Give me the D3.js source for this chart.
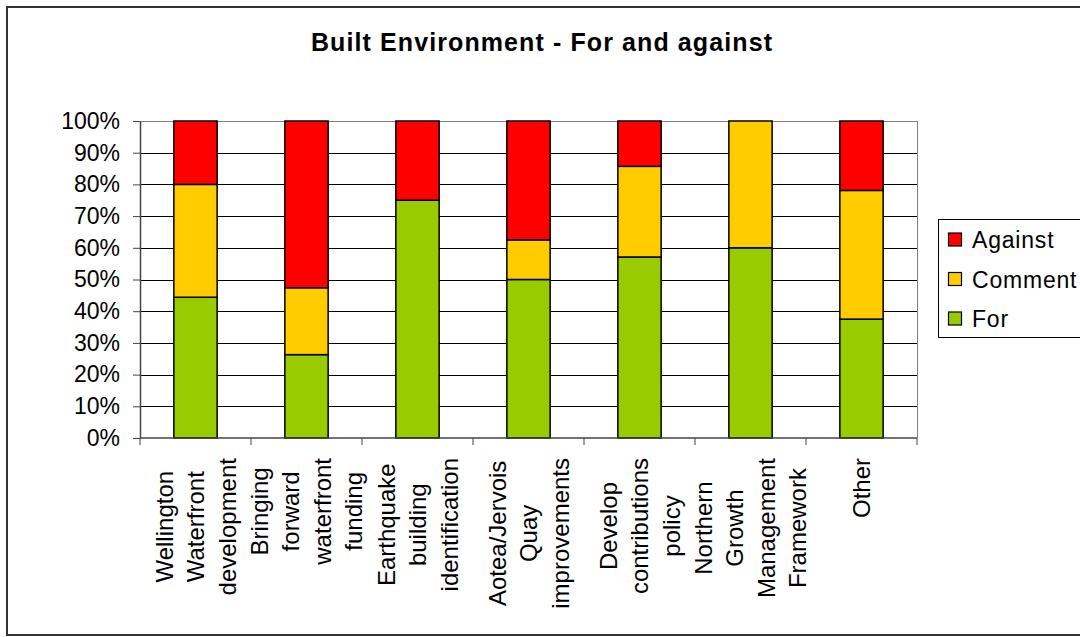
<!DOCTYPE html>
<html>
<head>
<meta charset="utf-8">
<script src="https://cdn.jsdelivr.net/npm/d3@7"></script>
<style>
  body { margin: 0; background: #fff; }
  text { font-family: "Liberation Sans", Arial, sans-serif; fill: #000; }
</style>
</head>
<body>
<div id="root"></div>
<script>
// categories (line breaks as shown in the chart)
var categories = [
  ["Wellington", "Waterfront", "development"],
  ["Bringing", "forward", "waterfront", "funding"],
  ["Earthquake", "building", "identification"],
  ["Aotea/Jervois", "Quay", "improvements"],
  ["Develop", "contributions", "policy"],
  ["Northern", "Growth", "Management", "Framework"],
  ["Other"]
];
// percentages per category
var forVals     = [44.4, 26.3, 75, 50, 57.1, 60, 37.5];
var commentVals = [35.6, 21.1, 0, 12.5, 28.6, 40, 40.6];
var againstVals = [20, 52.6, 25, 37.5, 14.3, 0, 21.9];
var seriesNames = ["For", "Comment", "Against"];
var seriesColors = ["#99cc00", "#ffcc00", "#ff0000"];
var yTicks = [0, 10, 20, 30, 40, 50, 60, 70, 80, 90, 100];

function draw() {
  var w = 1080, h = 637;
  var pLeft = 140, pRight = 917, pTop = 121, pBottom = 438;

  var svg = d3.select("#root").append("svg").attr("width", w).attr("height", h);

  // outer chart border
  svg.append("rect").attr("x", 7).attr("y", 7).attr("width", 1100).attr("height", 628)
    .style("fill", "none").style("stroke", "#333").style("stroke-width", 2);

  // title
  svg.append("text").attr("x", 542).attr("y", 51).attr("text-anchor", "middle")
    .style("font-size", "25px").style("font-weight", "bold").style("letter-spacing", "1.1px")
    .text("Built Environment - For and against");

  var x = d3.scaleBand().domain(d3.range(categories.length)).range([pLeft, pRight]).paddingInner(0.61).paddingOuter(0.305);
  var y = d3.scaleLinear().domain([0, 100]).range([pBottom, pTop]);

  // gridlines
  svg.append("g").selectAll("line").data(yTicks.slice(1)).enter().append("line")
    .attr("x1", pLeft).attr("x2", pRight)
    .attr("y1", d => Math.round(y(d)) + 0.5).attr("y2", d => Math.round(y(d)) + 0.5)
    .style("stroke", d => d == 100 ? "#808080" : "#000").style("stroke-width", 1);
  // right border of plot
  svg.append("line").attr("x1", pRight + 0.5).attr("x2", pRight + 0.5).attr("y1", pTop).attr("y2", pBottom)
    .style("stroke", "#808080");

  // stacked data
  var rows = forVals.map((v, i) => ({ For: v, Comment: commentVals[i], Against: againstVals[i], i: i }));
  var stack = d3.stack().keys(seriesNames)(rows);

  var g = svg.append("g");
  stack.forEach(function(layer, k) {
    g.selectAll(null).data(layer.filter(d => d[1] - d[0] > 0)).enter().append("rect")
      .attr("x", d => x(d.data.i))
      .attr("width", x.bandwidth())
      .attr("y", d => y(d[1]))
      .attr("height", d => y(d[0]) - y(d[1]))
      .style("fill", seriesColors[k])
      .style("stroke", "#000").style("stroke-width", 1.5);
  });

  // y axis
  var yAxis = svg.append("g").attr("transform", "translate(" + pLeft + ",0)")
    .call(d3.axisLeft(y).tickValues(yTicks).tickFormat(d => d + "%").tickSize(7).tickSizeOuter(0));
  yAxis.select(".domain").style("stroke", "#444").style("stroke-width", 1.5);
  yAxis.selectAll(".tick line").style("stroke", "#444");
  yAxis.selectAll(".tick text").attr("x", -20).style("font-size", "23px")
    .style("font-family", "Liberation Sans, Arial, sans-serif");

  // x axis with ticks at band boundaries
  var step = x.step();
  var xb = svg.append("g");
  xb.append("line").attr("x1", pLeft).attr("x2", pRight).attr("y1", pBottom).attr("y2", pBottom)
    .style("stroke", "#444").style("stroke-width", 1.5);
  xb.selectAll("line.t").data(d3.range(categories.length + 1)).enter().append("line").attr("class", "t")
    .attr("x1", d => pLeft + d * step).attr("x2", d => pLeft + d * step)
    .attr("y1", pBottom).attr("y2", pBottom + 7).style("stroke", "#444");

  // rotated category labels
  var lineH = 31.5, labelTop = 458;
  categories.forEach(function(lines, i) {
    var cx = x(i) + x.bandwidth() / 2;
    var grp = svg.append("g");
    var texts = lines.map(function(s) {
      return grp.append("text").attr("text-anchor", "middle").attr("dominant-baseline", "central")
        .style("font-size", "24px").text(s);
    });
    var maxLen = d3.max(texts, t => t.node().getComputedTextLength());
    texts.forEach(function(t, j) {
      var tx = cx + (j - (lines.length - 1) / 2) * lineH;
      var ty = labelTop + maxLen / 2;
      t.attr("transform", "translate(" + tx + "," + ty + ") rotate(-90)");
    });
  });

  // legend
  var lg = svg.append("g");
  lg.append("rect").attr("x", 938.5).attr("y", 219.5).attr("width", 200).attr("height", 118)
    .style("fill", "#fff").style("stroke", "#000");
  [2, 1, 0].forEach(function(k, j) {
    var cy = 240 + j * 39.5;
    lg.append("rect").attr("x", 948.5).attr("y", cy - 7).attr("width", 13).attr("height", 13)
      .style("fill", seriesColors[k]).style("stroke", "#000").style("stroke-width", 1.2);
    lg.append("text").attr("x", 972).attr("y", cy).attr("dominant-baseline", "central")
      .style("font-size", "23px").style("letter-spacing", "0.8px").text(seriesNames[k]);
  });
}

draw();
</script>
</body>
</html>
